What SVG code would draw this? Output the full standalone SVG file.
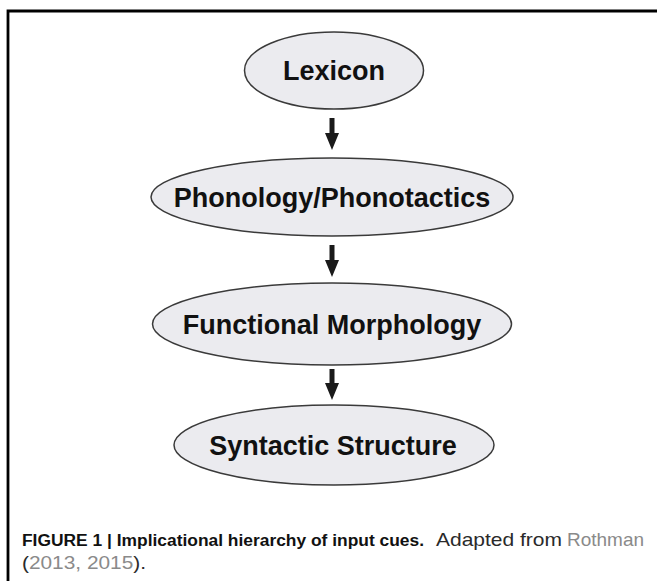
<svg xmlns="http://www.w3.org/2000/svg" width="657" height="581" viewBox="0 0 657 581">
<style>
.node ellipse{fill:#ebebef;stroke:#3a3a3a;stroke-width:1.5}
.node text{font-family:"Liberation Sans",Arial,sans-serif;font-weight:bold;font-size:27px;fill:#111;text-anchor:middle}
.arrow{fill:#1a1a1a}
.cap{font-family:"Liberation Sans",Arial,sans-serif;font-size:18.5px;fill:#2a2a2a}
.b{font-weight:bold;fill:#111;font-size:17.4px}
.g{fill:#8a8a8a}
</style>
<rect width="657" height="581" fill="#fff"/>
<path d="M8 581 V11 H657" fill="none" stroke="#000" stroke-width="2.8"/>
<g id="lexicon" class="node">
<ellipse cx="334" cy="70.5" rx="89.5" ry="38.5"/>
<text x="334" y="80">Lexicon</text>
</g>
<g id="phonology" class="node">
<ellipse cx="332" cy="197" rx="181" ry="39"/>
<text x="332" y="206.5">Phonology/Phonotactics</text>
</g>
<g id="morphology" class="node">
<ellipse cx="332" cy="324" rx="179.5" ry="41"/>
<text x="332" y="334">Functional Morphology</text>
</g>
<g id="syntax" class="node">
<ellipse cx="334" cy="445" rx="160" ry="40"/>
<text x="333" y="454.5">Syntactic Structure</text>
</g>
<g id="connectors">
<path class="arrow" d="M329.5 118 H334.5 V133 H339 L332 150 L325 133 H329.5 Z"/>
<path class="arrow" d="M329.5 245 H334.5 V260 H339 L332 277 L325 260 H329.5 Z"/>
<path class="arrow" d="M329.5 369 H334.5 V383 H339 L332 400 L325 383 H329.5 Z"/>
</g>
<text class="cap" y="546"><tspan class="b" x="22">FIGURE 1 | Implicational hierarchy of input cues.</tspan><tspan x="436" textLength="126" lengthAdjust="spacingAndGlyphs">Adapted from</tspan><tspan class="g" x="567" textLength="77" lengthAdjust="spacingAndGlyphs">Rothman</tspan></text>
<text class="cap" x="22" y="569" textLength="124" lengthAdjust="spacingAndGlyphs">(<tspan class="g">2013, 2015</tspan>).</text>
</svg>
